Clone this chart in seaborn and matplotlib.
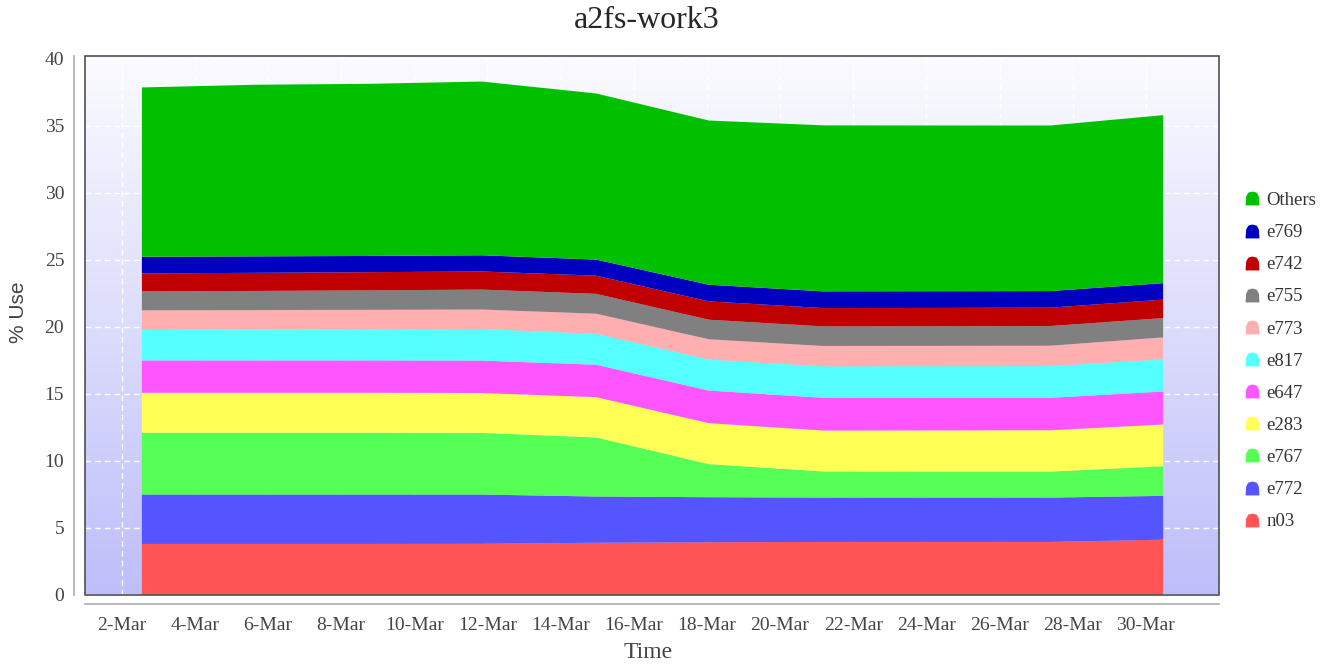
import matplotlib
matplotlib.use('Agg')
import matplotlib.pyplot as plt
import matplotlib.dates as mdates
from matplotlib.lines import Line2D
from matplotlib.path import Path
from matplotlib.patches import Rectangle
from matplotlib.colors import LinearSegmentedColormap
from matplotlib.ticker import FuncFormatter, MultipleLocator
import seaborn as sns
import pandas as pd
import numpy as np

# sample times
times = pd.to_datetime(['2025-03-02 13:00', '2025-03-05 15:00', '2025-03-08 18:00',
                        '2025-03-11 20:00', '2025-03-14 23:00', '2025-03-18 01:00',
                        '2025-03-21 04:00', '2025-03-24 06:00', '2025-03-27 09:00',
                        '2025-03-30 11:00'])

# % use per host (stacked bottom -> top)
n03 = [3.81, 3.81, 3.81, 3.82, 3.90, 3.94, 3.96, 3.96, 3.96, 4.13]
e772 = [3.69, 3.69, 3.69, 3.68, 3.45, 3.36, 3.31, 3.31, 3.31, 3.27]
e767 = [4.61, 4.61, 4.61, 4.60, 4.41, 2.47, 1.95, 1.94, 1.94, 2.21]
e283 = [2.99, 2.99, 2.99, 2.98, 3.01, 3.06, 3.06, 3.08, 3.09, 3.12]
e647 = [2.41, 2.41, 2.41, 2.42, 2.42, 2.43, 2.44, 2.43, 2.42, 2.46]
e817 = [2.30, 2.32, 2.33, 2.36, 2.31, 2.32, 2.35, 2.36, 2.37, 2.40]
e773 = [1.44, 1.44, 1.45, 1.45, 1.50, 1.51, 1.52, 1.52, 1.52, 1.64]
e755 = [1.42, 1.43, 1.45, 1.49, 1.48, 1.46, 1.46, 1.46, 1.47, 1.44]
e742 = [1.34, 1.35, 1.36, 1.35, 1.36, 1.37, 1.37, 1.37, 1.37, 1.38]
e769 = [1.24, 1.23, 1.21, 1.21, 1.20, 1.24, 1.25, 1.25, 1.24, 1.23]
others = [12.64, 12.81, 12.85, 12.97, 12.40, 12.26, 12.39, 12.37, 12.36, 12.54]

labels = ['n03', 'e772', 'e767', 'e283', 'e647', 'e817', 'e773', 'e755', 'e742', 'e769', 'Others']
series = [n03, e772, e767, e283, e647, e817, e773, e755, e742, e769, others]
colors = ['#ff5555', '#5555ff', '#55ff55', '#ffff55', '#ff55ff', '#55ffff',
          '#ffafaf', '#808080', '#c00000', '#0000c0', '#00c000']

sns.set_style('white')
plt.rcParams['font.family'] = ['Liberation Serif', 'DejaVu Serif']

fig = plt.figure(figsize=(13.37, 6.66), dpi=100)
ax = fig.add_axes([85 / 1337, 1 - 594.5 / 666, 1134 / 1337, 538.5 / 666])

# gradient background of the plot area
grad = np.linspace(0, 1, 256).reshape(-1, 1)
bg_cmap = LinearSegmentedColormap.from_list('bg', ['#fbfbff', '#bebefa'])
ax.imshow(grad, cmap=bg_cmap, aspect='auto', extent=[0, 1, 0, 1],
          transform=ax.transAxes, zorder=0)

ax.stackplot(times, *series, colors=colors, labels=labels, linewidth=0, zorder=2)

ax.set_xlim(pd.Timestamp('2025-03-01'), pd.Timestamp('2025-04-01'))
ax.set_ylim(0, 40.2)

ax.yaxis.set_major_locator(MultipleLocator(5))
ax.xaxis.set_major_locator(mdates.DayLocator(bymonthday=range(2, 31, 2)))
ax.xaxis.set_major_formatter(FuncFormatter(
    lambda v, pos: f"{mdates.num2date(v).day}-{mdates.num2date(v):%b}"))

ax.set_axisbelow(True)
ax.grid(True, color='white', linestyle=(0, (4, 3)), linewidth=1)

for s in ['top', 'right']:
    ax.spines[s].set_visible(False)
ax.spines['left'].set_position(('outward', 8))
ax.spines['bottom'].set_position(('outward', 7))
for s in ['left', 'bottom']:
    ax.spines[s].set_color('#b4b4b4')
    ax.spines[s].set_linewidth(1.3)
ax.tick_params(axis='both', which='major', length=4, width=1, color='#8a8a8a',
               labelsize=14, labelcolor='#444444', direction='out', pad=3)
ax.tick_params(axis='x', pad=5)

ax.add_patch(Rectangle((0, 0), 1, 1, transform=ax.transAxes, fill=False,
                       edgecolor='#505050', linewidth=1.2, zorder=5, clip_on=False))

fig.text(647 / 1337, 1 - 21 / 666, 'a2fs-work3', ha='center', va='center', fontsize=23)
fig.text(648 / 1337, 1 - 653 / 666, 'Time', ha='center', va='center', fontsize=17,
         color='#444444')
fig.text(19 / 1337, 1 - 312 / 666, '% Use', ha='center', va='center', rotation=90,
         fontsize=15, color='#444444', family=['Liberation Sans', 'DejaVu Sans'])

# dome-shaped legend keys
dome = Path([(-0.5, -0.5), (0.5, -0.5), (0.45, 0.15), (0.3, 0.42), (0.0, 0.5),
             (-0.3, 0.42), (-0.45, 0.15), (-0.5, -0.5)], closed=True)
handles = [Line2D([], [], linestyle='none', marker=dome, markersize=9,
                  markerfacecolor=c, markeredgecolor=c, label=l)
           for l, c in zip(labels, colors)][::-1]
fig.legend(handles=handles, loc='upper left', bbox_to_anchor=(1226 / 1337, 1 - 175 / 666),
           frameon=False, fontsize=13.5, labelspacing=0.8, handlelength=1.0,
           handletextpad=0.25, labelcolor='#333333')

fig.savefig('out.png', dpi=100)
